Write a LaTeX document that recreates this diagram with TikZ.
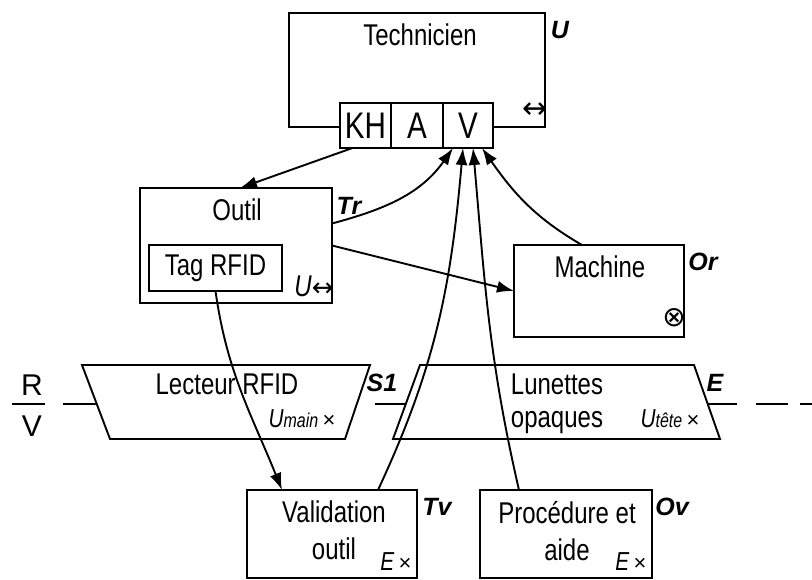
\documentclass[tikz,border=0pt]{standalone}
\usepackage{fontspec}
\setmainfont{Liberation Sans}[FakeStretch=0.8]
\newfontfamily\plainfont{Liberation Sans}
\newfontfamily\symfont{DejaVu Sans}
\usetikzlibrary{positioning,calc,arrows.meta}
\tikzset{>={Latex[length=17pt,width=12pt]}}

\begin{document}
\begin{tikzpicture}[x=1pt,y=-1pt,line width=1.9pt,
    box/.style={draw,fill=white,inner sep=0pt,outer sep=0pt,anchor=north west},
    txt/.style={inner sep=0pt,font=\fontsize{30}{37}\selectfont},
    ind/.style={inner sep=0pt,font=\fontsize{37}{37}\selectfont},
    tag/.style={inner sep=0pt,font=\plainfont\fontsize{25}{25}\selectfont\bfseries\itshape},
    mode/.style={inner sep=0pt,font=\fontsize{26}{26}\selectfont\itshape},
    link/.style={->,line width=1.9pt},
    rv/.style={line width=2.8pt}]
\useasboundingbox (0,0) rectangle (812,580);

% R/V line
\node[inner sep=0pt,font=\plainfont\fontsize{30}{30}\selectfont] (rlbl) at (32,385) {R};
\node[inner sep=0pt,font=\plainfont\fontsize{30}{30}\selectfont] (vlbl) at (32,426) {V};
\draw[rv] (12,404) -- (45,404);
\draw[rv] (63,404) -- (120,404);
\draw[rv] (375,404) -- (430,404);
\draw[rv,dash pattern=on 37pt off 19pt on 32pt off 12pt] (700,404) -- (812,404);

% technicien
\node[box,minimum width=256pt,minimum height=114pt] (tech) at (289,13) {};
\node[box,ind,minimum width=51pt,minimum height=45pt] (kh) at (340,103) {KH};
\node[box,ind,minimum width=52pt,minimum height=45pt,anchor=west] (att) at (kh.east) {A};
\node[box,ind,minimum width=50pt,minimum height=45pt,anchor=west] (vis) at (att.east) {V};
\node[txt] (techname) at ($(tech.north)+(3,22)$) {Technicien};
\node[tag,anchor=north west] (techtag) at ($(tech.north east)+(5,7)$) {U};
\node[inner sep=0pt,font=\symfont\fontsize{30}{30}\selectfont] (techmode) at (535,111) {↔};

% outil
\node[box,minimum width=192pt,minimum height=115pt] (outil) at (140,188) {};
\node[txt] (outilname) at ($(outil.north)+(1,22)$) {Outil};
\node[box,txt,minimum width=133pt,minimum height=46pt] (rfidtag) at (149,245) {Tag RFID};
\node[mode] (outilmode) at (314,286) {\fontsize{30}{30}\selectfont U{\symfont\fontsize{26}{26}\selectfont↔}};
\node[tag] (outiltag) at (349,206) {Tr};

% machine
\node[box,minimum width=170pt,minimum height=92pt] (machine) at (514,245) {};
\node[txt] (machname) at ($(machine.north)+(1,22)$) {Machine};
\node[inner sep=0pt,font=\symfont\fontsize{28}{28}\selectfont] (machmode) at (674,318) {⊗};
\node[tag] (machtag) at (703,262) {Or};

% interfaces
\draw[fill=white] (82,365) -- (370,365) -- (345,439) -- (110,439) -- cycle;
\draw[fill=white] (420,365) -- (694,365) -- (720,439) -- (393,439) -- cycle;
\node[txt] (reader) at (227,384) {Lecteur RFID};
\node[mode] (readermode) at (302,419) {U{\fontsize{20}{20}\selectfont main}\,{\plainfont\fontsize{22}{22}\selectfont\upshape ×}};
\node[tag] (readertag) at (382,383) {S1};
\node[txt,align=center,font=\fontsize{30}{33}\selectfont] (glasses) at (557,404) {Lunettes\\opaques};
\node[mode] (glassesmode) at (670,419) {U{\fontsize{20}{20}\selectfont tête}\,{\plainfont\fontsize{22}{22}\selectfont\upshape ×}};
\node[tag] (glassestag) at (715,383) {E};

% validation et procedure
\node[box,minimum width=170pt,minimum height=88pt] (valid) at (247,490) {};
\node[txt,align=center] (validname) at (334,530) {Validation\\outil};
\node[mode] (validmode) at (396,562) {E\,{\plainfont\fontsize{22}{22}\selectfont\upshape ×}};
\node[tag] (validtag) at (437,507) {Tv};
\node[box,minimum width=172pt,minimum height=88pt] (proc) at (480,490) {};
\node[txt,align=center] (procname) at (567,531) {Procédure et\\aide};
\node[mode] (procmode) at (631,562) {E\,{\plainfont\fontsize{22}{22}\selectfont\upshape ×}};
\node[tag] (proctag) at (672,507) {Ov};

% liens
\draw[link] ([xshift=-13pt]kh.south) -- ([xshift=4pt]outil.north);
\draw[link] ([yshift=22pt]outil.east) to[out=15,in=-125] ([xshift=10pt]vis.south west);
\draw[link] (outil.east) -- (machine.west);
\draw[link] ([xshift=-17pt]machine.north) to[out=150,in=-55] ([xshift=-11pt]vis.south east);
\draw[link] (rfidtag.south) to[out=-82,in=112] ([xshift=-50pt]valid.north);
\draw[link] ([xshift=46pt]valid.north) to[out=65,in=-95] ([xshift=-5pt]vis.south);
\draw[link] ([xshift=-47pt]proc.north) to[out=103,in=-85] ([xshift=5pt]vis.south);
\end{tikzpicture}
\end{document}
